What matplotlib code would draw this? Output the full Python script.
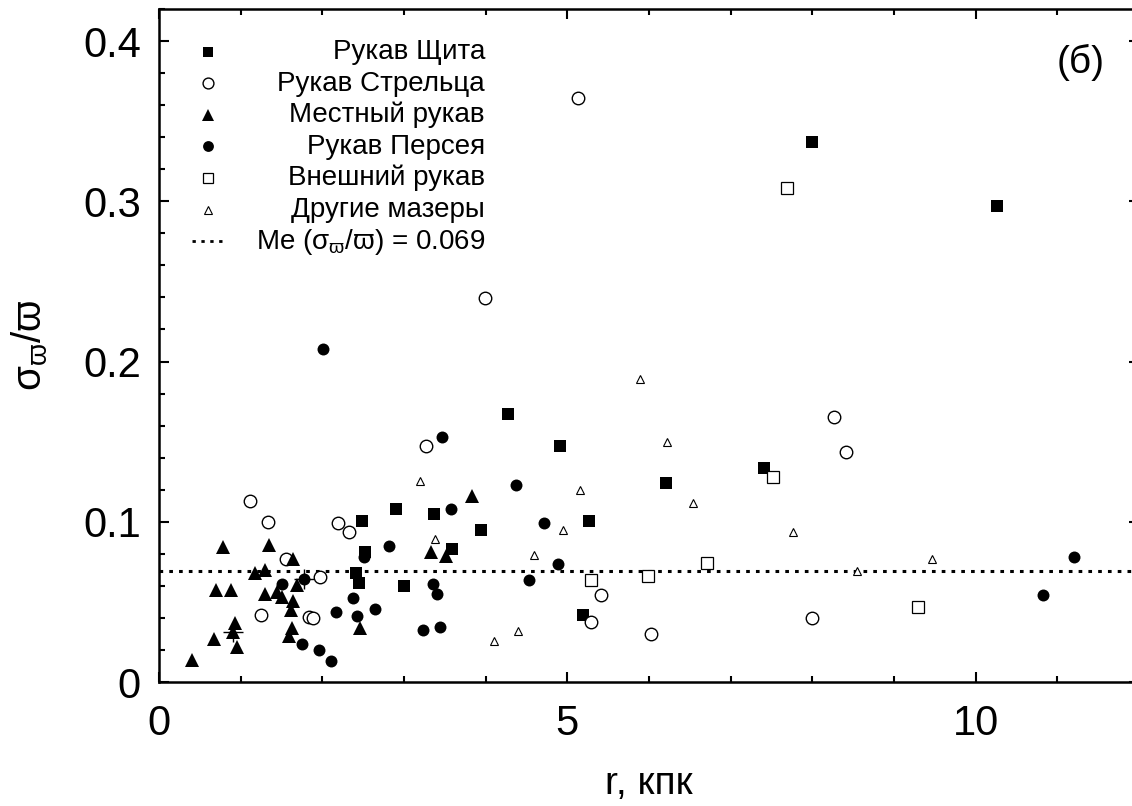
import matplotlib
matplotlib.use("Agg")
import matplotlib.pyplot as plt
from matplotlib.ticker import MultipleLocator, FuncFormatter
from matplotlib.lines import Line2D

plt.rcParams['font.family'] = ['Liberation Sans', 'DejaVu Sans']
plt.rcParams['mathtext.fontset'] = 'custom'
plt.rcParams['mathtext.rm'] = 'Liberation Sans'
plt.rcParams['mathtext.it'] = 'Liberation Sans:italic'

# ---- data: r (kpc), sigma_plx / plx ----
scutum_r = [2.49, 2.90, 2.52, 2.41, 2.45, 2.995, 4.27, 4.91, 3.37, 3.94, 5.26,
            3.59, 5.19, 6.21, 7.41, 8.00, 10.26]
scutum_y = [0.1006, 0.108, 0.081, 0.068, 0.062, 0.060, 0.167, 0.1475, 0.1048,
            0.0948, 0.1006, 0.0831, 0.0417, 0.1244, 0.1338, 0.337, 0.2968]

sagitt_r = [1.11, 1.34, 2.19, 2.33, 1.555, 1.975, 1.25, 1.84, 1.88, 3.27, 5.41,
            5.29, 8.26, 8.41, 6.02, 8.00, 5.13, 3.99]
sagitt_y = [0.113, 0.0998, 0.099, 0.0935, 0.0765, 0.0656, 0.0417, 0.0406, 0.0398,
            0.1475, 0.0544, 0.0375, 0.1656, 0.1433, 0.0302, 0.0402, 0.3646, 0.2394]

local_r = [0.78, 1.35, 1.64, 1.17, 1.30, 1.685, 0.70, 0.88, 1.30, 1.45, 1.50,
           1.645, 1.62, 0.93, 0.91, 0.96, 0.67, 1.63, 1.59, 2.46, 0.41, 3.83,
           3.33, 3.51]
local_y = [0.084, 0.0854, 0.0765, 0.068, 0.070, 0.0604, 0.0573, 0.0573, 0.0552,
           0.0563, 0.053, 0.0504, 0.0448, 0.0369, 0.031, 0.0219, 0.027, 0.034,
           0.0286, 0.0334, 0.0136, 0.116, 0.0813, 0.0786]

perseus_r = [2.82, 2.51, 1.78, 1.51, 2.38, 2.17, 2.42, 2.65, 1.75, 1.955, 2.10,
             3.47, 4.37, 3.57, 4.72, 4.88, 3.36, 3.40, 4.53, 3.235, 3.435,
             11.20, 10.83, 2.01]
perseus_y = [0.0848, 0.078, 0.064, 0.061, 0.0525, 0.0436, 0.0415, 0.0456, 0.0236,
             0.0198, 0.0129, 0.153, 0.1227, 0.1077, 0.0994, 0.0738, 0.0609,
             0.0548, 0.0636, 0.0327, 0.0344, 0.078, 0.054, 0.2079]

outer_r = [5.29, 7.52, 6.71, 5.99, 9.29, 7.69]
outer_y = [0.0636, 0.128, 0.074, 0.066, 0.0465, 0.3084]

other_r = [3.19, 5.15, 4.95, 3.38, 4.59, 4.10, 4.39, 6.22, 6.54, 7.76, 8.55,
           9.47, 5.89]
other_y = [0.1256, 0.1198, 0.0948, 0.089, 0.079, 0.0256, 0.0319, 0.150, 0.112,
           0.0938, 0.0693, 0.0767, 0.189]

cross_r = [0.91, 1.78]
cross_y = [0.031, 0.064]

median_val = 0.069

labels = ['Рукав Щита', 'Рукав Стрельца', 'Местный рукав', 'Рукав Персея',
          'Внешний рукав', 'Другие мазеры',
          r'Me ($\mathregular{\sigma_{\varpi}/\varpi}$) = 0.069']

# ---- figure ----
W, H = 1132, 806
fig = plt.figure(figsize=(W / 100, H / 100), dpi=100)
x0, x1, ytop, ybot = 159, 1139, 9, 682
ax = fig.add_axes([x0 / W, 1 - ybot / H, (x1 - x0) / W, (ybot - ytop) / H])

ax.set_xlim(0, 12)
ax.set_ylim(0, 0.42)

ax.axhline(median_val, color='black', lw=2.2, ls=(0, (1.2, 2.0)), zorder=1)

styles = [
    (scutum_r, scutum_y, dict(marker='s', ms=8.8, mfc='black', mec='black', mew=0)),
    (sagitt_r, sagitt_y, dict(marker='o', ms=9.0, mfc='white', mec='black', mew=1.0)),
    (local_r, local_y, dict(marker='^', ms=9.8, mfc='black', mec='black', mew=0)),
    (perseus_r, perseus_y, dict(marker='o', ms=8.6, mfc='black', mec='black', mew=0)),
    (outer_r, outer_y, dict(marker='s', ms=8.8, mfc='white', mec='black', mew=0.9)),
    (other_r, other_y, dict(marker='^', ms=6.4, mfc='white', mec='black', mew=0.8)),
]
for xs, ys, st in styles:
    ax.plot(xs, ys, ls='none', zorder=3, **st)
ax.plot(cross_r, cross_y, ls='none', marker='+', ms=14, mew=1.0, color='black', zorder=4)

# ---- axes styling ----
for s in ax.spines.values():
    s.set_linewidth(1.8)
ax.xaxis.set_major_locator(MultipleLocator(5))
ax.xaxis.set_minor_locator(MultipleLocator(1))
ax.yaxis.set_major_locator(MultipleLocator(0.1))
ax.yaxis.set_minor_locator(MultipleLocator(0.02))
ax.yaxis.set_major_formatter(FuncFormatter(lambda v, p: '0' if abs(v) < 1e-9 else f'{v:.1f}'))
ax.xaxis.set_major_formatter(FuncFormatter(lambda v, p: f'{v:.0f}'))
ax.tick_params(which='both', direction='in', top=True, right=True, width=1.5)
ax.tick_params(which='major', length=7.5, labelsize=30)
ax.tick_params(which='minor', length=4.3)
ax.tick_params(axis='x', which='major', pad=16)
ax.tick_params(axis='y', which='major', pad=13)

ax.set_xlabel('r, кпк', fontsize=28, labelpad=16)
ax.set_ylabel(r'$\mathregular{\sigma_{\varpi}/\varpi}$', fontsize=29, labelpad=24)

fig.text(1105 / W, 1 - 62 / H, '(б)', fontsize=28, ha='right', va='center')

# ---- manual legend (gnuplot style: marker left, text right-aligned) ----
def px(x, y):
    return ((x - x0) / (x1 - x0), (ybot - y) / (ybot - ytop))

leg_styles = [
    dict(marker='s', ms=7.8, mfc='black', mec='black', mew=0),
    dict(marker='o', ms=7.8, mfc='white', mec='black', mew=1.0),
    dict(marker='^', ms=8.2, mfc='black', mec='black', mew=0),
    dict(marker='o', ms=7.8, mfc='black', mec='black', mew=0),
    dict(marker='s', ms=7.8, mfc='white', mec='black', mew=0.9),
    dict(marker='^', ms=5.6, mfc='white', mec='black', mew=0.8),
]
for i, lab in enumerate(labels):
    yy = 51.5 + 31.6 * i
    if i < len(leg_styles):
        mx, my = px(208, yy)
        ax.add_line(Line2D([mx], [my], transform=ax.transAxes, ls='none',
                           clip_on=False, **leg_styles[i]))
    else:
        ax.add_line(Line2D([px(192, yy)[0], px(227, yy)[0]], [px(192, yy)[1]] * 2,
                           transform=ax.transAxes, color='black', lw=2.0,
                           ls=(0, (1.2, 2.0)), clip_on=False))
    tx, ty = px(485, yy + 7.5)
    ax.text(tx, ty, lab, transform=ax.transAxes, ha='right', va='baseline',
            fontsize=20)

fig.savefig('out.png', dpi=100)
